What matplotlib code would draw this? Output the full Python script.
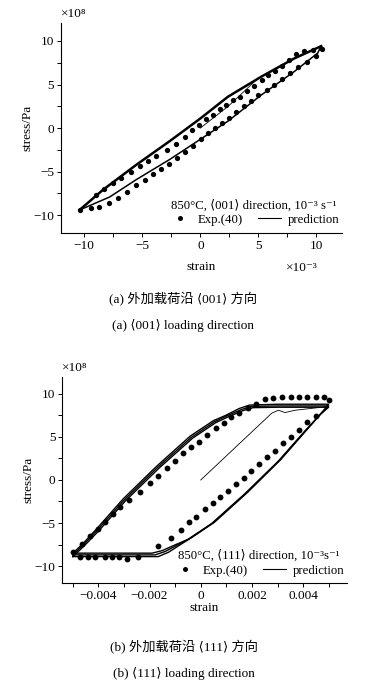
import matplotlib
matplotlib.use("Agg")
import matplotlib.pyplot as plt
from matplotlib.lines import Line2D
from matplotlib.ticker import MultipleLocator

plt.rcParams["font.family"] = ["Liberation Serif", "DejaVu Serif", "DejaVu Sans", "Noto Sans CJK SC"]
FS = 9.5

# ---- panel (a): <001> direction, strain in 1e-3, stress in 1e8 Pa ----
a_up_x = [-10.4, -8.4, -5.5, -2.64, 0.0, 2.38, 5.25, 8.1, 10.4]
a_up_y = [-9.4, -7.1, -4.2, -1.5, 1.1, 3.6, 5.9, 8.0, 9.4]
a_dn_x = [10.4, 10.1, 8.1, 5.25, 2.38, 0.1, -2.64, -5.5, -7.8, -10.4]
a_dn_y = [9.4, 8.6, 6.5, 3.8, 0.8, -1.2, -3.6, -5.9, -7.9, -9.4]
a_init_x = [0.0, 2.4, 4.8]
a_init_y = [0.0, 2.5, 5.5]

a_exp_up_x = [-9.0, -8.3, -7.5, -6.8, -6.0, -5.2, -4.5, -3.8, -2.9, -2.1, -1.3, -0.7, -0.1,
              0.5, 1.1, 1.7, 2.2, 2.8, 3.4, 4.0, 4.6, 5.3, 5.8, 6.4, 7.0, 7.6, 8.2, 8.9, 9.7, 10.5]
a_exp_up_y = [-7.7, -7.0, -6.3, -5.7, -5.0, -4.4, -3.8, -3.2, -2.5, -1.8, -1.0, -0.2, 0.3,
              1.0, 1.5, 2.2, 2.6, 3.2, 3.6, 4.3, 4.8, 5.5, 6.1, 6.6, 7.1, 7.8, 8.5, 8.8, 9.0, 9.1]
a_exp_dn_x = [10.0, 9.2, 8.4, 7.7, 7.0, 6.3, 5.7, 5.0, 4.4, 3.8, 3.1, 2.5, 1.9, 1.3, 0.7, 0.1,
              -0.6, -1.3, -2.0, -2.7, -3.4, -4.1, -4.8, -5.5, -6.3, -7.1, -7.9, -8.7, -9.4, -10.4]
a_exp_dn_y = [8.3, 7.6, 7.0, 6.3, 5.6, 5.0, 4.4, 3.8, 3.1, 2.5, 1.8, 1.2, 0.6, 0.0, -0.6, -1.3,
              -2.0, -2.7, -3.4, -4.1, -4.7, -5.3, -5.9, -6.5, -7.3, -8.0, -8.6, -9.0, -9.2, -9.4]

a_xticks = [-10, -5, 0, 5, 10]
a_xlabels = ["\u221210", "\u22125", "0", "5", "10"]
a_yticks = [-10, -5, 0, 5, 10]
a_ylabels = ["\u221210", "\u22125", "0", "5", "10"]

# ---- panel (b): <111> direction, strain in 1e-3, stress in 1e8 Pa ----
b_cycles = [
    ([-4.99, -4.6, -4.07, -3.03, -1.72, -0.41, 0.5, 0.97, 1.5, 1.9, 3.0, 4.99],
     [-8.5, -7.4, -5.7, -2.2, 1.6, 5.1, 6.9, 7.5, 8.3, 8.7, 8.8, 8.8],
     [4.99, 4.6, 4.07, 3.03, 1.72, 0.41, -0.5, -0.97, -1.5, -1.9, -3.0, -4.99],
     [8.8, 7.4, 5.7, 2.2, -1.6, -5.1, -6.9, -7.5, -8.2, -8.5, -8.5, -8.5]),
    ([-4.99, -4.57, -4.03, -2.98, -1.67, -0.37, 0.53, 1.02, 1.56, 1.96, 3.0, 4.99],
     [-8.7, -7.5, -5.8, -2.3, 1.5, 4.95, 6.75, 7.45, 8.15, 8.55, 8.6, 8.6],
     [4.99, 4.63, 4.11, 3.08, 1.78, 0.47, -0.43, -0.88, -1.38, -1.78, -3.0, -4.99],
     [8.6, 7.5, 5.8, 2.3, -1.5, -5.0, -6.8, -7.5, -8.3, -8.7, -8.7, -8.7]),
    ([-4.99, -4.53, -3.98, -2.93, -1.62, -0.32, 0.58, 1.08, 1.64, 2.04, 3.0, 4.99],
     [-8.9, -7.6, -5.9, -2.4, 1.4, 4.85, 6.65, 7.35, 8.05, 8.4, 8.45, 8.45],
     [4.99, 4.66, 4.16, 3.13, 1.84, 0.54, -0.36, -0.79, -1.26, -1.66, -3.0, -4.99],
     [8.45, 7.6, 5.9, 2.4, -1.4, -4.9, -6.7, -7.5, -8.4, -8.9, -8.9, -8.9]),
]
b_init_x = [0.0, 2.77, 3.03, 3.29, 3.68, 4.86, 4.99]
b_init_y = [0.0, 7.76, 8.1, 7.83, 8.1, 8.5, 8.7]

b_exp_up_x = [-4.99, -4.63, -4.31, -4.0, -3.72, -3.43, -3.15, -2.8, -2.37, -1.98, -1.65, -1.32,
              -0.99, -0.68, -0.38, -0.05, 0.25, 0.58, 0.89, 1.19, 1.49, 1.85, 2.15, 2.5, 2.83,
              3.18, 3.52, 3.85, 4.16, 4.49, 4.8, 4.99]
b_exp_up_y = [-8.4, -7.4, -6.45, -5.7, -4.9, -4.0, -3.17, -2.28, -1.36, -0.35, 0.5, 1.39,
              2.24, 3.08, 3.78, 4.4, 5.2, 5.98, 6.67, 7.33, 7.83, 8.4, 8.88, 9.38, 9.57,
              9.65, 9.65, 9.65, 9.67, 9.69, 9.69, 9.27]
b_exp_dn_x = [4.49, 4.16, 3.85, 3.52, 3.22, 2.9, 2.59, 2.28, 1.98, 1.69, 1.39, 1.06, 0.77, 0.47,
              0.15, -0.18, -0.45, -0.77, -1.16, -1.65, -2.44, -2.89, -3.2, -3.46, -3.75, -4.11,
              -4.4, -4.73]
b_exp_dn_y = [7.45, 6.68, 5.83, 5.05, 4.24, 3.4, 2.62, 1.85, 1.0, 0.19, -0.46, -1.24, -2.0, -2.67,
              -3.36, -4.3, -4.9, -5.8, -6.72, -7.69, -8.96, -9.15, -9.0, -8.96, -8.96, -8.96,
              -8.96, -8.96]

b_xticks = [-4, -2, 0, 2, 4]
b_xlabels = ["\u22120.004", "\u22120.002", "0", "0.002", "0.004"]
b_yticks = [-10, -5, 0, 5, 10]
b_ylabels = ["\u221210", "\u22125", "0", "5", "10"]

fig = plt.figure(figsize=(3.67, 6.83), dpi=100)
ax1 = fig.add_axes([0.166, 0.6593, 0.766, 0.3063])
ax2 = fig.add_axes([0.170, 0.146, 0.775, 0.3025])


def style_axes(ax, xticks, xlabels, yticks, ylabels, xminor):
    ax.spines["top"].set_visible(False)
    ax.spines["right"].set_visible(False)
    for s in ("left", "bottom"):
        ax.spines[s].set_linewidth(0.8)
    ax.set_xticks(xticks, xlabels)
    ax.set_yticks(yticks, ylabels)
    ax.xaxis.set_minor_locator(MultipleLocator(xminor))
    ax.yaxis.set_minor_locator(MultipleLocator(2.5))
    ax.tick_params(which="both", direction="out", length=3, width=0.7, labelsize=FS, pad=2)


# panel (a)
ax1.plot(a_exp_up_x, a_exp_up_y, "o", color="black", ms=3.8, mew=0)
ax1.plot(a_exp_dn_x, a_exp_dn_y, "o", color="black", ms=3.8, mew=0)
ax1.plot(a_up_x, a_up_y, color="black", lw=1.8)
ax1.plot(a_dn_x, a_dn_y, color="black", lw=1.1)
ax1.plot(a_init_x, a_init_y, color="black", lw=0.6)
ax1.set_xlim(-12, 12.2)
ax1.set_ylim(-12, 12)
style_axes(ax1, a_xticks, a_xlabels, a_yticks, a_ylabels, 2.5)
ax1.set_ylabel("stress/Pa", fontsize=FS, labelpad=0)
ax1.text(0.5, -0.165, "strain", transform=ax1.transAxes, ha="center", va="center", fontsize=FS)
ax1.text(0.858, -0.17, "\u00d710\u207b\u00b3", transform=ax1.transAxes, ha="center", va="center", fontsize=FS)
ax1.text(0.0, 1.015, "\u00d710\u2078", transform=ax1.transAxes, ha="left", va="bottom", fontsize=FS)

# panel (b)
ax2.plot(b_exp_up_x, b_exp_up_y, "o", color="black", ms=4.2, mew=0)
ax2.plot(b_exp_dn_x, b_exp_dn_y, "o", color="black", ms=4.2, mew=0)
for ux, uy, dx, dy in b_cycles:
    ax2.plot(ux + dx, uy + dy, color="black", lw=1.0)
ax2.plot(b_init_x, b_init_y, color="black", lw=0.6)
ax2.set_xlim(-5.4, 5.7)
ax2.set_ylim(-12, 12)
style_axes(ax2, b_xticks, b_xlabels, b_yticks, b_ylabels, 1)
ax2.set_ylabel("stress/Pa", fontsize=FS, labelpad=0)
ax2.set_xlabel("strain", fontsize=FS, labelpad=0)
ax2.text(0.0, 1.015, "\u00d710\u2078", transform=ax2.transAxes, ha="left", va="bottom", fontsize=FS)

handles = [
    Line2D([0], [0], marker="o", color="black", ls="none", ms=3.6, mew=0, label="Exp.(40)"),
    Line2D([0], [0], color="black", lw=0.8, label="prediction"),
]
for ax, title in [(ax1, "850\u00b0C, \u27e8001\u27e9 direction, 10\u207b\u00b3 s\u207b\u00b9"),
                  (ax2, "850\u00b0C, \u27e8111\u27e9 direction, 10\u207b\u00b3s\u207b\u00b9")]:
    ax.legend(handles=handles, ncol=2, title=title, frameon=False, loc="lower right",
              bbox_to_anchor=(1.0, 0.02), fontsize=9.2, title_fontsize=9.2,
              handlelength=1.8, handletextpad=0.5, columnspacing=1.2,
              borderpad=0.1, borderaxespad=0.1, labelspacing=0.2)

# captions
fig.text(0.5, 1 - 299 / 683, "(a) 外加载荷沿 \u27e8001\u27e9 方向", ha="center", va="center", fontsize=FS)
fig.text(0.5, 1 - 326 / 683, "(a) \u27e8001\u27e9 loading direction", ha="center", va="center", fontsize=FS)
fig.text(0.5, 1 - 647 / 683, "(b) 外加载荷沿 \u27e8111\u27e9 方向", ha="center", va="center", fontsize=FS)
fig.text(0.5, 1 - 673 / 683, "(b) \u27e8111\u27e9 loading direction", ha="center", va="center", fontsize=FS)

fig.savefig("out.png", dpi=100)
